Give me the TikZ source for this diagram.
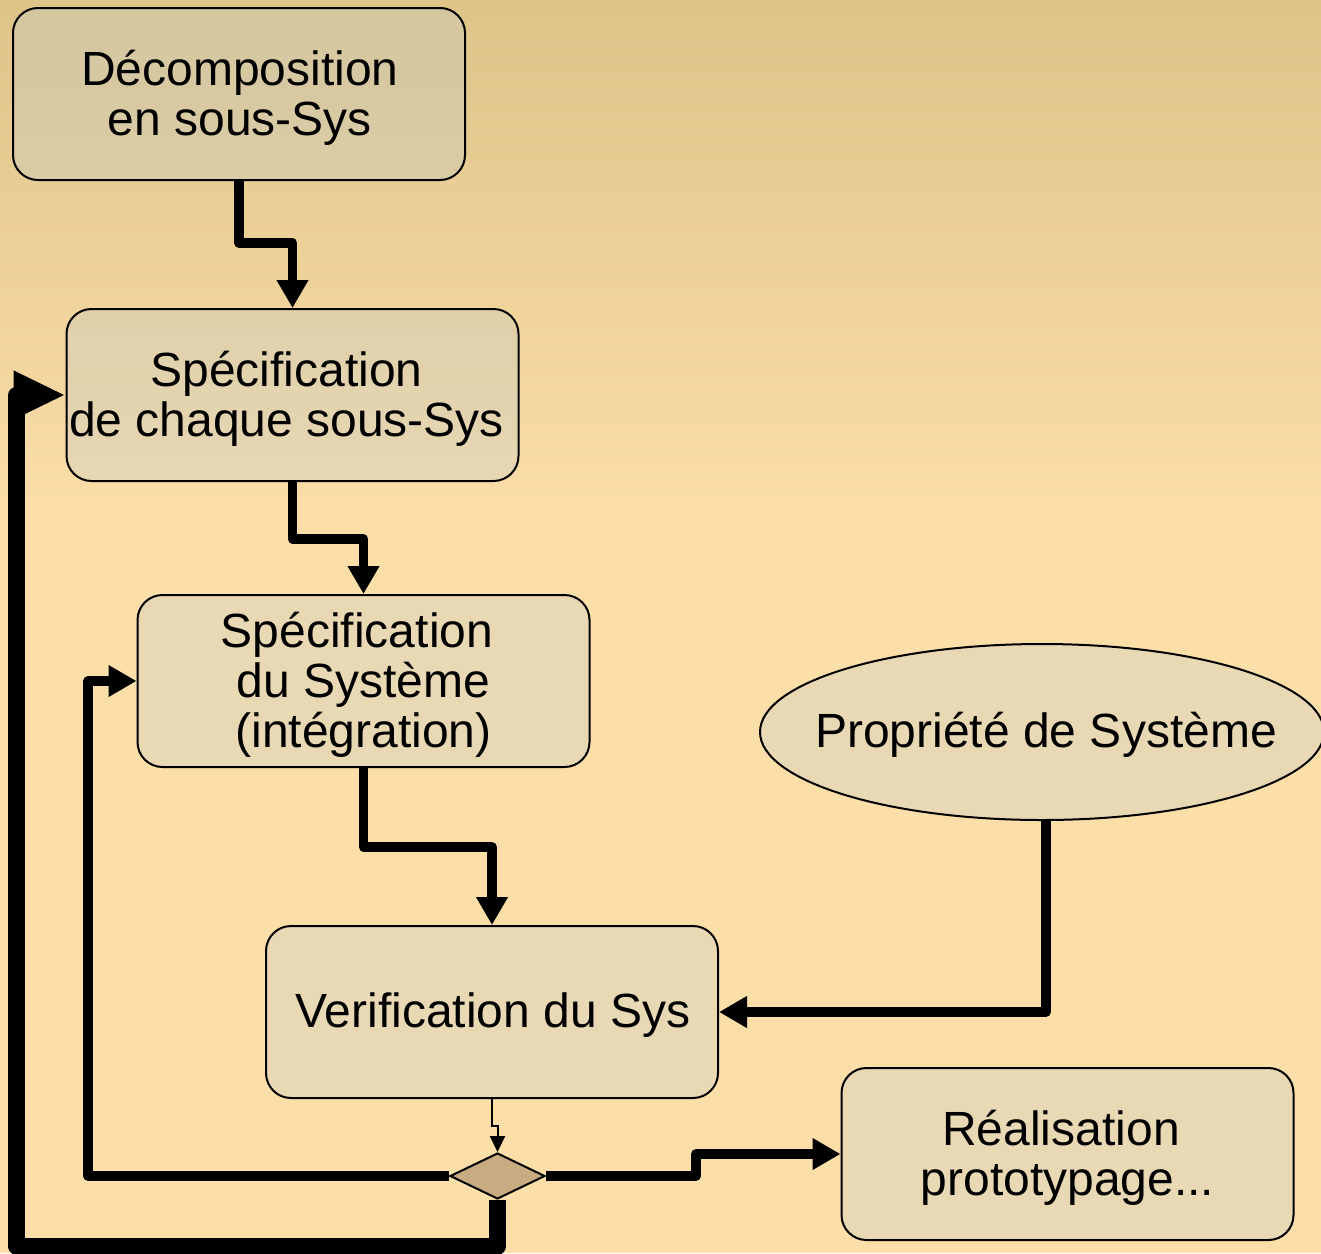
\documentclass[tikz,border=0pt]{standalone}
\usepackage{fontspec}
\setmainfont{Liberation Sans}
\usetikzlibrary{arrows.meta,shapes.geometric}
\definecolor{bgtop}{RGB}{222,196,137}
\definecolor{bgbot}{RGB}{251,222,168}
\definecolor{tint}{RGB}{190,203,207}
\definecolor{diafill}{RGB}{201,171,131}
\begin{document}
\begin{tikzpicture}[x=1pt,y=-1pt,
  txt/.style={font=\fontsize{48}{50}\selectfont, align=center, text=black, inner sep=0pt},
  stepbox/.style={draw=black, line width=2pt, rounded corners=25pt,
    minimum width=452pt, minimum height=172pt, inner sep=0pt,
    fill=tint, fill opacity=0.31, draw opacity=1},
  propnode/.style={ellipse, draw=black, line width=2pt,
    minimum width=564pt, minimum height=176pt, inner sep=0pt,
    fill=tint, fill opacity=0.31, draw opacity=1},
  choice/.style={diamond, draw=black, line width=2pt, fill=diafill,
    minimum width=95pt, minimum height=46pt, inner sep=0pt},
  conn/.style={line width=9.5pt, line join=round,
    -{Triangle[length=28pt,width=30pt]}},
  thinconn/.style={line width=2pt, -{Triangle[length=16pt,width=15pt]}},
  loopline/.style={line width=17pt, line join=round},
  looptip/.style={line width=17pt, -{Triangle[length=52pt,width=45pt]}}
]
% page and background
\useasboundingbox (0,0) rectangle (1321,1253);
\clip (0,0) rectangle (1321,1253);
\fill[bgbot] (0,515) rectangle (1321,1253);
\shade[top color=bgtop, bottom color=bgbot] (0,0) rectangle (1321,520);

% process steps (frames)
\node[stepbox] (b1) at (239,94) {};
\node[stepbox] (b2) at (292.5,395) {};
\node[stepbox] (b3) at (363.5,681) {};
\node[stepbox] (b4) at (492,1012) {};
\node[stepbox] (b5) at (1067.5,1154) {};
\node[propnode] (ell) at (1042,732) {};
\node[choice] (dia) at (497.5,1176) {};

% step labels (a trailing space keeps some first lines a little to the left)
\node[txt] (t1) at ([xshift=1pt,yshift=-4pt]b1.center) {Décomposition\\en sous-Sys};
\node[txt] (t2) at ([xshift=-6pt,yshift=-4pt]b2.center) {Spécification\\de chaque sous-Sys};
\node[txt] (t3) at ([xshift=0pt,yshift=-4pt]b3.center) {Spécification\kern13pt\\du Système\\(intégration)};
\node[txt] (t4) at ([xshift=1pt,yshift=-3pt]b4.center) {Verification du Sys};
\node[txt] (t5) at ([xshift=0pt,yshift=-4pt]b5.center) {Réalisation\kern13pt\\prototypage...};
\node[txt] (t6) at ([xshift=4pt,yshift=-3pt]ell.center) {Propriété de Système};

% forward flow
\draw[conn] (b1.south) -- ++(0,62) -| (b2.north);
\draw[conn] (b2.south) -- ++(0,57) -| (b3.north);
\draw[conn] (b3.south) -- ++(0,79) -| (b4.north);
\draw[conn] ([xshift=4pt]ell.south) |- (b4.east);
\draw[thinconn] (b4.south) -- ++(0,27) -| (dia.north);
\draw[conn] (dia.east) -- ++(150,0) |- (b5.west);

% feedback loops
\draw[conn] (dia.west) -- ++(-361,0) |- (b3.west);
\draw[loopline] (dia.south) -- ++(0,46) -| ([xshift=-49pt]b2.west) -- ([xshift=-40pt]b2.west);
\draw[looptip] ([xshift=-52pt]b2.west) -- (b2.west);
\end{tikzpicture}
\end{document}
